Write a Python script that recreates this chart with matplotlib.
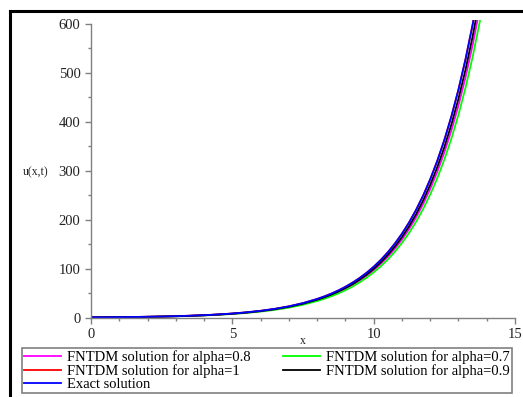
import numpy as np
import matplotlib.pyplot as plt
from matplotlib.lines import Line2D

x_vals = [0, 0.5, 1, 1.5, 2, 2.5, 3, 3.5, 4, 4.5, 5, 5.5, 6, 6.5, 7, 7.5, 8,
          8.25, 8.5, 8.75, 9, 9.25, 9.5, 9.75, 10, 10.25, 10.5, 10.75, 11,
          11.25, 11.5, 11.75, 12, 12.25, 12.5, 12.75, 13, 13.25, 13.5, 13.75, 14]

exact = [0.70, 0.90, 1.15, 1.48, 1.90, 2.44, 3.14, 4.03, 5.17, 6.64, 8.53, 10.95,
         14.06, 18.05, 23.18, 29.77, 38.22, 43.31, 49.08, 55.61, 63.01, 71.40,
         80.91, 91.68, 103.9, 117.7, 133.4, 151.2, 171.3, 194.1, 219.9, 249.2,
         282.4, 320.0, 362.6, 410.9, 465.6, 527.6, 597.8, 677.4, 767.6]
alpha_1 = [0.70, 0.90, 1.15, 1.48, 1.90, 2.44, 3.14, 4.03, 5.17, 6.64, 8.53, 10.95,
           14.06, 18.05, 23.18, 29.77, 38.22, 43.31, 49.08, 55.61, 63.01, 71.40,
           80.91, 91.68, 103.9, 117.7, 133.4, 151.2, 171.3, 194.1, 219.9, 249.2,
           282.4, 320.0, 362.6, 410.9, 465.6, 527.6, 597.8, 677.4, 767.6]
alpha_09 = [0.67, 0.86, 1.10, 1.42, 1.82, 2.34, 3.01, 3.87, 4.96, 6.37, 8.19, 10.5,
            13.5, 17.3, 22.3, 28.6, 36.7, 41.6, 47.1, 53.4, 60.5, 68.5, 77.7, 88.0,
            99.7, 113.0, 128.1, 145.2, 164.4, 186.3, 211.1, 239.2, 271.1, 307.2,
            348.1, 394.5, 447.0, 506.5, 573.9, 650.3, 736.9]
alpha_08 = [0.65, 0.84, 1.07, 1.38, 1.77, 2.27, 2.92, 3.75, 4.81, 6.18, 7.93, 10.2,
            13.1, 16.8, 21.6, 27.7, 35.5, 40.3, 45.6, 51.7, 58.6, 66.4, 75.2, 85.3,
            96.6, 109.5, 124.1, 140.6, 159.3, 180.5, 204.5, 231.8, 262.6, 297.6,
            337.2, 382.1, 433.0, 490.7, 556.0, 630.0, 713.9]
alpha_07 = [0.62, 0.80, 1.02, 1.32, 1.69, 2.17, 2.79, 3.59, 4.60, 5.91, 7.59, 9.75,
            12.5, 16.1, 20.6, 26.5, 34.0, 38.5, 43.7, 49.5, 56.1, 63.5, 72.0, 81.6,
            92.5, 104.8, 118.7, 134.6, 152.5, 172.7, 195.7, 221.8, 251.3, 284.8,
            322.7, 365.7, 414.4, 469.6, 532.0, 602.9, 683.2]

x_ticks = [0, 5, 10, 15]
y_ticks = [0, 100, 200, 300, 400, 500, 600]

plt.rcParams['font.family'] = ['Liberation Serif', 'DejaVu Serif']

fig = plt.figure(figsize=(5.23, 3.97), dpi=100)
W, H = 523.0, 397.0
ax = fig.add_axes([91 / W, 1 - 317.7 / H, 424 / W, (317.7 - 19.8) / H])

lw = 1.3
l_m, = ax.plot(x_vals, alpha_08, color='#ff00ff', lw=lw)
l_g, = ax.plot(x_vals, alpha_07, color='#00ff00', lw=lw)
l_r, = ax.plot(x_vals, alpha_1, color='#ff0000', lw=lw)
l_k, = ax.plot(x_vals, alpha_09, color='#000000', lw=lw)
l_b, = ax.plot(x_vals, exact, color='#0000ff', lw=lw)

ax.set_xlim(0, 15)
ax.set_ylim(0, 608)
for s in ['top', 'right']:
    ax.spines[s].set_visible(False)
ax.spines['left'].set_bounds(0, 600)
ax.spines['bottom'].set_bounds(0, 15)
for s in ['left', 'bottom']:
    ax.spines[s].set_color('#808080')
    ax.spines[s].set_linewidth(1.0)

ax.set_xticks(x_ticks)
ax.set_yticks(y_ticks)
ax.set_xticks(np.arange(0, 16, 1), minor=True)
ax.set_yticks(np.arange(0, 601, 50), minor=True)
ax.tick_params(which='major', direction='out', length=4, width=1, color='#808080',
               labelsize=10.5, labelcolor='#222222', pad=3.5)
ax.tick_params(which='minor', direction='out', length=2.5, width=1, color='#808080')

fig.text(303 / W, 1 - 341 / H, 'x', ha='center', va='center', fontsize=8.5, color='#222222')
fig.text(36 / W, 1 - 172 / H, 'u(x,t)', ha='center', va='center', fontsize=8.5, color='#222222')

handles = [l_m, l_r, l_b, l_g, l_k]
labels = ['FNTDM solution for alpha=0.8', 'FNTDM solution for alpha=1', 'Exact solution',
          'FNTDM solution for alpha=0.7', 'FNTDM solution for alpha=0.9']
leg = fig.legend(handles, labels, ncol=2, loc='lower left',
                 bbox_to_anchor=(22 / W, 1 - 393 / H, 490 / W, 44 / H),
                 bbox_transform=fig.transFigure, mode='expand', borderaxespad=0,
                 fontsize=10.5, handlelength=2.5, handletextpad=0.45,
                 labelspacing=0.0, borderpad=0.15, columnspacing=0.4,
                 fancybox=False, framealpha=1)
leg.get_frame().set_edgecolor('#808080')
leg.get_frame().set_linewidth(1.2)

# outer frame (left and top edges are visible)
fig.add_artist(Line2D([9.5 / W, 9.5 / W], [0, 1 - 10.5 / H], transform=fig.transFigure,
                      color='black', lw=2.2))
fig.add_artist(Line2D([9.5 / W, 1], [1 - 10.5 / H, 1 - 10.5 / H], transform=fig.transFigure,
                      color='black', lw=2.2))

fig.savefig('out.png', dpi=100)
